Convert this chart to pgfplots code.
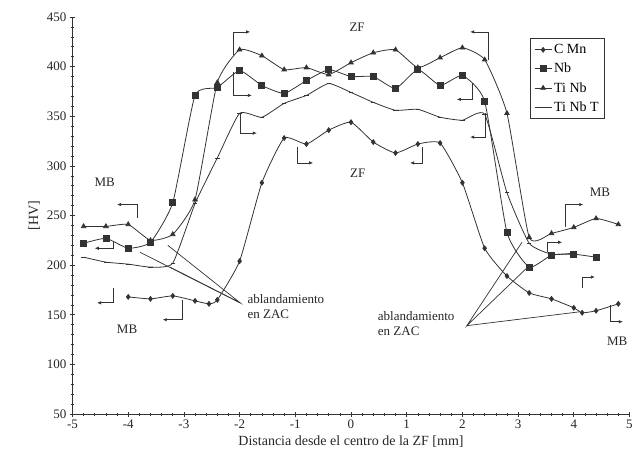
\documentclass[border=0pt]{standalone}
\usepackage{fontspec}
\setmainfont{Liberation Serif}
\usepackage{pgfplots}
\pgfplotsset{compat=1.18}
\usetikzlibrary{arrows.meta}

\pgfplotstableread{
x y
-4.0 168
-3.6 166
-3.2 169
-2.8 164
-2.55 161
-2.4 165
-2.0 204
-1.6 283
-1.2 328
-0.8 322
-0.4 336
0.0 344
0.4 324
0.8 313
1.2 322
1.6 323
2.0 283
2.4 217
2.8 189
3.2 172
3.6 166
4.0 157
4.15 152
4.4 154
4.8 161
}\cmn

\pgfplotstableread{
x y
-4.8 222
-4.4 227
-4.0 217
-3.6 223
-3.2 263
-2.8 371
-2.4 379
-2.0 396
-1.6 381
-1.2 373
-0.8 386
-0.4 397
0.0 390
0.4 390
0.8 378
1.2 397
1.6 381
2.0 391
2.4 365
2.8 233
3.2 198
3.6 210
4.0 211
4.4 208
}\nb

\pgfplotstableread{
x y
-4.8 239
-4.4 239
-4.0 241
-3.6 225
-3.2 231
-2.8 266
-2.4 384
-2.0 417
-1.6 411
-1.2 397
-0.8 399
-0.4 392
0.0 404
0.4 414
0.8 417
1.2 399
1.6 409
2.0 419
2.4 407
2.8 353
3.2 228
3.6 232
4.0 238
4.4 247
4.8 241
}\tinb

\pgfplotstableread{
x y
-4.8 208
-4.4 203
-4.0 201
-3.6 198
-3.2 202
-2.8 262
-2.4 308
-2.0 353
-1.6 349
-1.2 363
-0.8 371
-0.4 383
0.0 374
0.4 364
0.8 356
1.2 357
1.6 349
2.0 346
2.4 352
2.8 273
3.2 222
3.6 211
4.0 212
}\tinbt

\begin{document}
\begin{tikzpicture}
\begin{axis}[
  at={(0pt,0pt)}, anchor=south west,
  scale only axis, width=557pt, height=397pt,
  xmin=-5, xmax=5, ymin=50, ymax=450,
  axis x line=bottom, axis y line=left,
  axis line style={-, line width=0.8pt, black!80},
  xtick={-5,-4,...,5}, ytick={50,100,...,450},
  minor x tick num=4, minor y tick num=4,
  tick align=center, major tick length=5pt, minor tick length=3pt,
  tick style={line width=0.6pt, black!80},
  /pgf/number format/assume math mode=true,
  ticklabel style={font=\fontsize{13}{15}\selectfont, black!85},
  label style={font=\fontsize{14}{16}\selectfont, black!85},
  xlabel={Distancia desde el centro de la ZF [mm]},
  ylabel={[HV]},
  clip=false,
  legend cell align=left,
  legend style={at={(rel axis cs:0.821,0.947)}, anchor=north west,
    draw=black!80, line width=0.8pt, fill=white,
    font=\fontsize{14}{16}\selectfont, row sep=4pt, inner sep=4pt},
  every axis plot/.append style={line width=0.8pt, black!80, smooth, tension=0.3},
]
\addplot[mark=diamond*, mark size=2.4pt] table[x=x,y=y] {\cmn};
\addlegendentry{C Mn}
\addplot[mark=square*, mark size=3pt] table[x=x,y=y] {\nb};
\addlegendentry{Nb}
\addplot[mark=triangle*, mark size=2.6pt] table[x=x,y=y] {\tinb};
\addlegendentry{Ti Nb}
\addplot[mark=-, mark size=2.2pt] table[x=x,y=y] {\tinbt};
\addlegendentry{Ti Nb T}

% annotation fans
\draw[line width=0.7pt, black!80] (-3.79,213) -- (-1.99,162) -- (-3.29,220);
\draw[line width=0.7pt, black!80] (-3.25,198) -- (-1.99,162);
\draw[line width=0.7pt, black!80] (3.07,223) -- (2.08,139) -- (3.21,200);
\draw[line width=0.7pt, black!80] (4.11,153) -- (2.08,139);

% bracket arrows
\begin{scope}[line width=0.7pt, black!80, -{Latex[length=4pt,width=3.5pt]}]
\draw (-2.12,412) -- (-2.12,435) -- (-1.81,435);
\draw (-2.12,395) -- (-2.12,371) -- (-1.78,371);
\draw (-1.99,353) -- (-1.99,333) -- (-1.69,333);
\draw (-0.97,319) -- (-0.97,303) -- (-0.68,303);
\draw (2.46,407) -- (2.46,435) -- (2.14,435);
\draw (2.17,383) -- (2.17,367) -- (1.90,367);
\draw (2.41,353) -- (2.41,329) -- (2.14,329);
\draw (1.29,319) -- (1.29,303) -- (1.06,303);
\draw (3.84,238) -- (3.84,261) -- (4.17,261);
\draw (3.52,213) -- (3.52,223) -- (3.79,223);
\draw (4.15,177) -- (4.15,188) -- (4.38,188);
\draw (4.65,160) -- (4.65,143) -- (4.88,143);
\draw (-3.84,247) -- (-3.84,261) -- (-4.20,261);
\draw (-4.27,223) -- (-4.27,217) -- (-4.60,217);
\draw (-4.27,177) -- (-4.27,162) -- (-4.56,162);
\draw (-3.03,165) -- (-3.03,145) -- (-3.38,145);
\end{scope}

% text labels
\begin{scope}[font=\fontsize{13}{15}\selectfont, black!85]
\node at (0.11,440) {ZF};
\node at (0.12,293) {ZF};
\node at (-4.42,283) {MB};
\node at (-4.02,135) {MB};
\node at (4.47,273) {MB};
\node at (4.78,123) {MB};
\node[anchor=west, align=left, inner sep=0pt] at (-1.86,158) {ablandamiento\\en ZAC};
\node[anchor=west, align=left, inner sep=0pt] at (0.48,141) {ablandamiento\\en ZAC};
\end{scope}
\end{axis}
\pgfresetboundingbox
\path[use as bounding box] (-72.5pt,-58pt) rectangle (570.5pt,414pt);
\end{tikzpicture}
\end{document}
